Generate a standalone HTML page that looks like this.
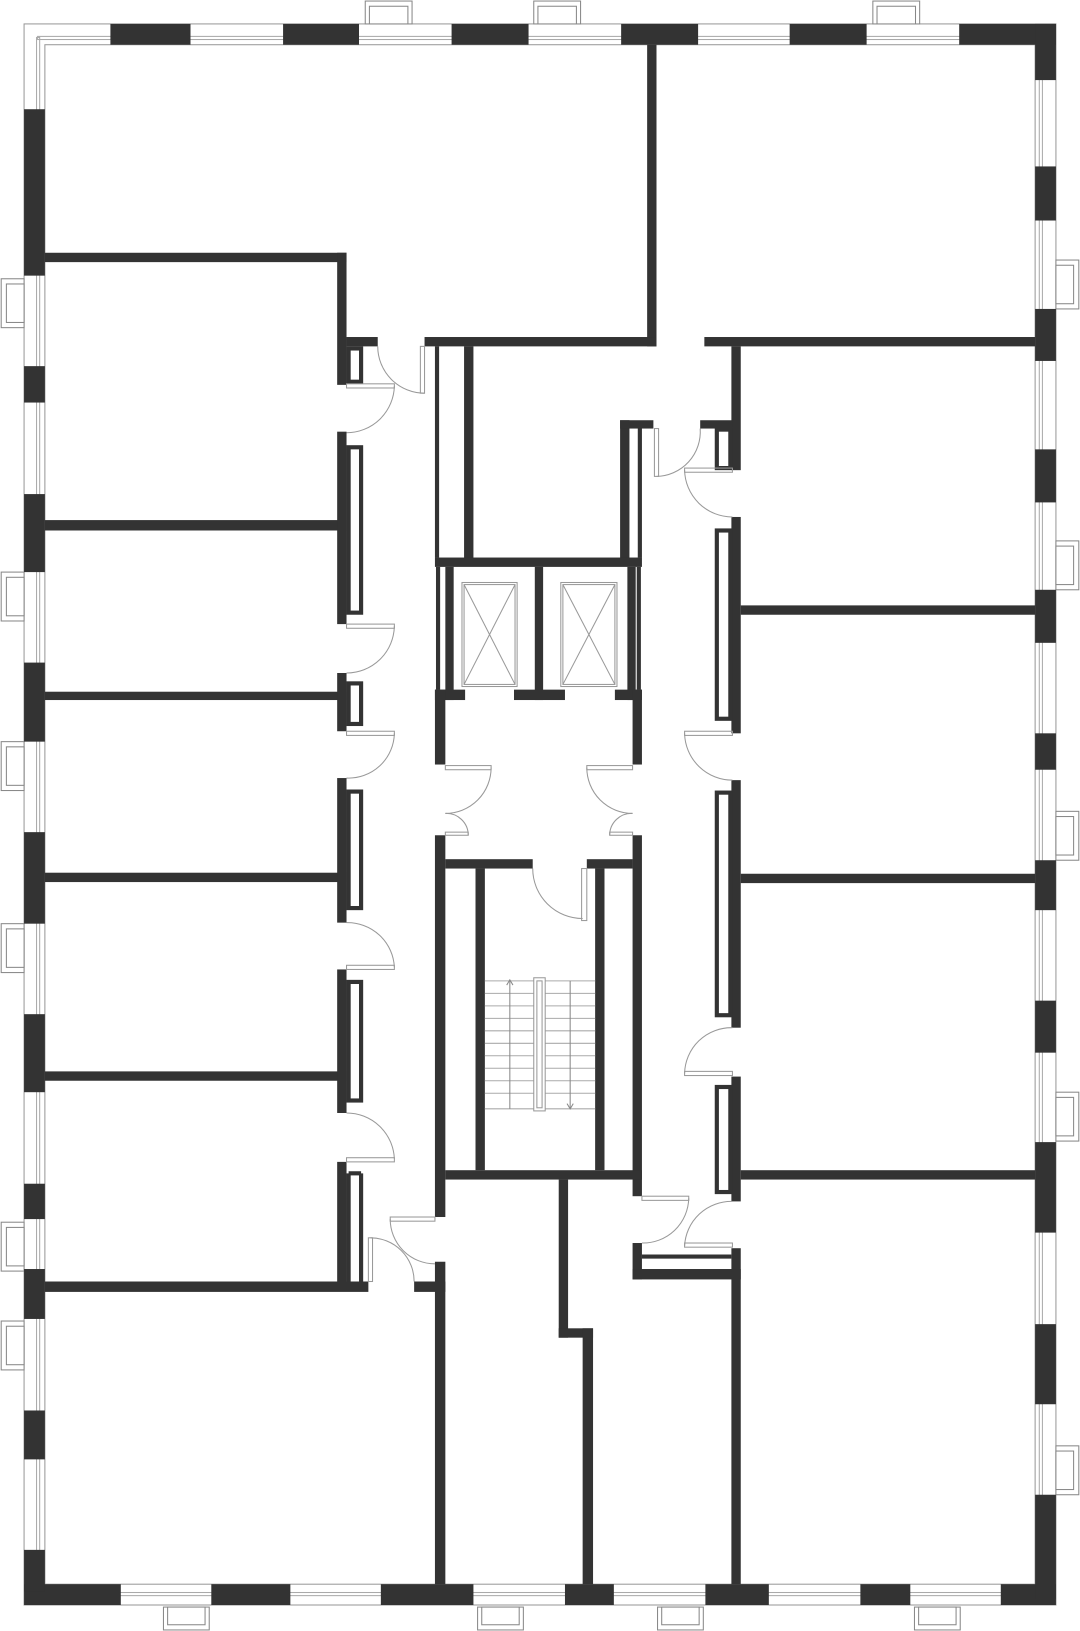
<!DOCTYPE html>
<html><head><meta charset="utf-8"><style>html,body{margin:0;padding:0;background:#fff}svg{display:block}</style></head>
<body>
<svg width="1080" height="1631" viewBox="0 0 1038 1568" xmlns="http://www.w3.org/2000/svg">
<g fill="none" stroke="#999" stroke-width="1">
<!-- outer frame outline -->
<rect x="23" y="23" width="992" height="1520"/>
<rect x="43" y="43" width="952" height="1480"/>
<!-- window glass lines -->
<rect x="36" y="35" width="966" height="3" stroke="#aaa"/>
<rect x="35" y="36" width="3" height="1496" stroke="#aaa"/>
<rect x="999" y="36" width="3" height="1496" stroke="#aaa"/>
<rect x="36" y="1531" width="966" height="3" stroke="#aaa"/>
</g>
<!-- balconies -->
<g fill="#fff" stroke="#888" stroke-width="1">
<rect x="351" y="1" width="45" height="22"/><rect x="355" y="6" width="37" height="17"/>
<rect x="513" y="1" width="45" height="22"/><rect x="517" y="6" width="37" height="17"/>
<rect x="839" y="1" width="45" height="22"/><rect x="843" y="6" width="37" height="17"/>
<rect x="157" y="1545" width="44" height="22"/><rect x="161" y="1545" width="36" height="17"/>
<rect x="459" y="1545" width="44" height="22"/><rect x="463" y="1545" width="36" height="17"/>
<rect x="632" y="1545" width="44" height="22"/><rect x="636" y="1545" width="36" height="17"/>
<rect x="879" y="1545" width="44" height="22"/><rect x="883" y="1545" width="36" height="17"/>
<rect x="1" y="268" width="22" height="47"/><rect x="6" y="273" width="17" height="37"/>
<rect x="1" y="550" width="22" height="47"/><rect x="6" y="555" width="17" height="37"/>
<rect x="1" y="713" width="22" height="47"/><rect x="6" y="718" width="17" height="37"/>
<rect x="1" y="888" width="22" height="47"/><rect x="6" y="893" width="17" height="37"/>
<rect x="1" y="1175" width="22" height="47"/><rect x="6" y="1180" width="17" height="37"/>
<rect x="1" y="1270" width="22" height="47"/><rect x="6" y="1275" width="17" height="37"/>
<rect x="1015" y="250" width="22" height="47"/><rect x="1015" y="255" width="17" height="37"/>
<rect x="1015" y="520" width="22" height="47"/><rect x="1015" y="525" width="17" height="37"/>
<rect x="1015" y="780" width="22" height="47"/><rect x="1015" y="785" width="17" height="37"/>
<rect x="1015" y="1050" width="22" height="47"/><rect x="1015" y="1055" width="17" height="37"/>
<rect x="1015" y="1390" width="22" height="47"/><rect x="1015" y="1395" width="17" height="37"/>
</g>
<g fill="#333">
<!-- top wall solids -->
<rect x="106" y="23" width="77" height="20"/><rect x="272" y="23" width="73" height="20"/>
<rect x="434" y="23" width="74" height="20"/><rect x="597" y="23" width="74" height="20"/>
<rect x="759" y="23" width="74" height="20"/><rect x="922" y="23" width="93" height="20"/>
<!-- bottom -->
<rect x="23" y="1523" width="93" height="20"/><rect x="203" y="1523" width="76" height="20"/>
<rect x="366" y="1523" width="89" height="20"/><rect x="543" y="1523" width="47" height="20"/>
<rect x="678" y="1523" width="61" height="20"/><rect x="827" y="1523" width="48" height="20"/>
<rect x="962" y="1523" width="53" height="20"/>
<!-- left -->
<rect x="23" y="105" width="20" height="160"/><rect x="23" y="352" width="20" height="35"/>
<rect x="23" y="475" width="20" height="75"/><rect x="23" y="637" width="20" height="76"/>
<rect x="23" y="800" width="20" height="88"/><rect x="23" y="975" width="20" height="75"/>
<rect x="23" y="1138" width="20" height="34"/><rect x="23" y="1220" width="20" height="48"/>
<rect x="23" y="1356" width="20" height="47"/><rect x="23" y="1490" width="20" height="40"/>
<!-- right -->
<rect x="995" y="23" width="20" height="54"/><rect x="995" y="160" width="20" height="52"/>
<rect x="995" y="297" width="20" height="50"/><rect x="995" y="432" width="20" height="51"/>
<rect x="995" y="567" width="20" height="51"/><rect x="995" y="705" width="20" height="35"/>
<rect x="995" y="827" width="20" height="48"/><rect x="995" y="962" width="20" height="50"/>
<rect x="995" y="1098" width="20" height="87"/><rect x="995" y="1273" width="20" height="77"/>
<rect x="995" y="1437" width="20" height="100"/>

<!-- top interior -->
<rect x="622" y="43" width="9" height="290"/>
<rect x="408" y="324" width="223" height="9"/>
<rect x="677" y="324" width="318" height="9"/>
<rect x="43" y="243" width="290" height="9"/>
<rect x="324" y="243" width="9" height="127"/>
<rect x="333" y="324" width="30" height="9"/>
<!-- left column -->
<rect x="43" y="500" width="290" height="10"/>
<rect x="43" y="665" width="290" height="8"/>
<rect x="43" y="839" width="290" height="9"/>
<rect x="43" y="1030" width="290" height="9"/>
<rect x="43" y="1232" width="311" height="10"/>
<rect x="324" y="415" width="9" height="185"/>
<rect x="324" y="647" width="9" height="56"/>
<rect x="324" y="748" width="9" height="139"/>
<rect x="324" y="932" width="9" height="138"/>
<rect x="324" y="1117" width="9" height="115"/>
<rect x="398" y="1232" width="30" height="10"/>
<rect x="418" y="1213" width="10" height="310"/>
<!-- core -->
<rect x="446" y="333" width="9" height="207"/>
<rect x="596" y="404" width="9" height="136"/>
<rect x="596" y="404" width="32" height="8"/>
<rect x="418" y="536" width="199" height="9"/>
<rect x="428" y="545" width="8" height="128"/>
<rect x="514" y="545" width="8" height="128"/>
<rect x="603" y="545" width="8" height="128"/>
<rect x="418" y="663" width="29" height="10"/><rect x="494" y="663" width="49" height="10"/><rect x="591" y="663" width="26" height="10"/>
<rect x="418" y="663" width="10" height="72"/>
<rect x="608" y="663" width="9" height="72"/>
<rect x="418" y="803" width="10" height="367"/>
<rect x="608" y="803" width="9" height="347"/>
<rect x="428" y="826" width="84" height="9"/>
<rect x="564" y="826" width="44" height="9"/>
<rect x="457" y="835" width="9" height="290"/>
<rect x="572" y="835" width="9" height="290"/>
<rect x="428" y="1125" width="189" height="9"/>
<rect x="537" y="1134" width="9" height="152"/>
<rect x="537" y="1277" width="33" height="9"/>
<rect x="560" y="1277" width="10" height="246"/>
<!-- right column -->
<rect x="703" y="333" width="9" height="119"/>
<rect x="673" y="404" width="31" height="8"/>
<rect x="703" y="497" width="9" height="208"/>
<rect x="703" y="750" width="9" height="238"/>
<rect x="703" y="1035" width="9" height="120"/>
<rect x="703" y="1200" width="9" height="323"/>
<rect x="712" y="582" width="283" height="9"/>
<rect x="712" y="840" width="283" height="9"/>
<rect x="712" y="1125" width="283" height="9"/>
<rect x="608" y="1195" width="9" height="35"/>
<rect x="608" y="1220" width="104" height="10"/>
</g>
<!-- outlined wall boxes -->
<g fill="#fff" stroke="#333" stroke-width="4">
<rect x="335" y="335" width="12" height="32"/>
<rect x="335" y="430" width="12" height="159"/>
<rect x="335" y="657" width="12" height="39"/>
<rect x="335" y="761" width="12" height="112"/>
<rect x="335" y="944" width="12" height="114"/>
<rect x="689" y="413" width="13" height="37"/>
<rect x="689" y="510" width="13" height="181"/>
<rect x="689" y="762" width="13" height="214"/>
<rect x="689" y="1045" width="13" height="101"/>
</g>
<g fill="none" stroke="#333" stroke-width="4">
<line x1="420" y1="333" x2="420" y2="536"/>
<line x1="615" y1="412" x2="615" y2="536"/>
<line x1="421" y1="545" x2="421" y2="663"/>
<line x1="614" y1="545" x2="614" y2="663"/>
<line x1="335" y1="1128" x2="335" y2="1232"/><line x1="347" y1="1128" x2="347" y2="1232"/><line x1="335" y1="1128" x2="347" y2="1128"/>
<line x1="617" y1="1208" x2="703" y2="1208"/>
</g>
<!-- elevators -->
<g fill="none" stroke="#999" stroke-width="1">
<rect x="444" y="560" width="53" height="100"/><rect x="446" y="562" width="49" height="96"/>
<line x1="446" y1="562" x2="495" y2="658"/><line x1="495" y1="562" x2="446" y2="658"/>
<rect x="539" y="560" width="54" height="100"/><rect x="541" y="562" width="50" height="96"/>
<line x1="541" y1="562" x2="591" y2="658"/><line x1="591" y1="562" x2="541" y2="658"/>
</g>
<!-- stairs -->
<g fill="none" stroke="#aaa" stroke-width="1">
<line x1="466" y1="943" x2="572" y2="943"/><line x1="466" y1="955" x2="572" y2="955"/>
<line x1="466" y1="967" x2="572" y2="967"/><line x1="466" y1="979" x2="572" y2="979"/>
<line x1="466" y1="991" x2="572" y2="991"/><line x1="466" y1="1003" x2="572" y2="1003"/>
<line x1="466" y1="1015" x2="572" y2="1015"/><line x1="466" y1="1027" x2="572" y2="1027"/>
<line x1="466" y1="1039" x2="572" y2="1039"/><line x1="466" y1="1051" x2="572" y2="1051"/>
<line x1="466" y1="1066" x2="572" y2="1066"/>
<rect x="513" y="940" width="11" height="128" fill="#fff" stroke="#999"/><rect x="516" y="943" width="5" height="122" stroke="#999"/>
<line x1="490" y1="943" x2="490" y2="1066" stroke="#888"/><polyline points="487,947 490,942 493,947" stroke="#888"/>
<line x1="548" y1="943" x2="548" y2="1066" stroke="#888"/><polyline points="545,1061 548,1066 551,1061" stroke="#888"/>
</g>
<!-- doors -->
<g fill="none" stroke="#999" stroke-width="1">
<path d="M363 333 A45 45 0 0 0 408 378"/><rect x="404" y="333" width="4" height="45"/>
<rect x="333" y="369" width="46" height="4"/><path d="M379 371 A46 46 0 0 1 333 416"/>
<rect x="333" y="600" width="46" height="4"/><path d="M379 602 A46 46 0 0 1 333 647"/>
<rect x="333" y="703" width="46" height="4"/><path d="M379 705 A44 44 0 0 1 333 748"/>
<path d="M333 887 A45 45 0 0 1 379 930"/><rect x="333" y="928" width="46" height="4"/>
<path d="M333 1070 A46 46 0 0 1 379 1114"/><rect x="333" y="1113" width="46" height="4"/>
<rect x="375" y="1170" width="43" height="4"/><path d="M375 1172 A43 43 0 0 0 418 1215"/>
<rect x="354" y="1190" width="4" height="42"/><path d="M356 1190 A42 42 0 0 1 398 1232"/>
<rect x="428" y="736" width="44" height="4"/><path d="M472 738 A44 44 0 0 1 428 782"/>
<rect x="428" y="800" width="22" height="3"/><path d="M428 782 A21 21 0 0 1 450 803"/>
<rect x="564" y="736" width="44" height="4"/><path d="M564 738 A44 44 0 0 0 608 782"/>
<rect x="586" y="800" width="22" height="3"/><path d="M608 782 A21 21 0 0 0 586 803"/>
<path d="M512 835 A48 48 0 0 0 560 883"/><rect x="559" y="835" width="5" height="50"/>
<rect x="629" y="412" width="4" height="46"/><path d="M631 458 A43 43 0 0 0 673 412"/>
<rect x="658" y="450" width="46" height="4"/><path d="M658 452 A46 46 0 0 0 704 497"/>
<rect x="658" y="703" width="46" height="4"/><path d="M658 705 A46 46 0 0 0 704 750"/>
<path d="M704 988 A45 45 0 0 0 658 1032"/><rect x="658" y="1030" width="46" height="4"/>
<path d="M704 1155 A45 45 0 0 0 658 1198"/><rect x="658" y="1195" width="46" height="4"/>
<rect x="617" y="1150" width="45" height="4"/><path d="M662 1152 A44 44 0 0 1 617 1195"/>
</g>
</svg>
</body></html>
